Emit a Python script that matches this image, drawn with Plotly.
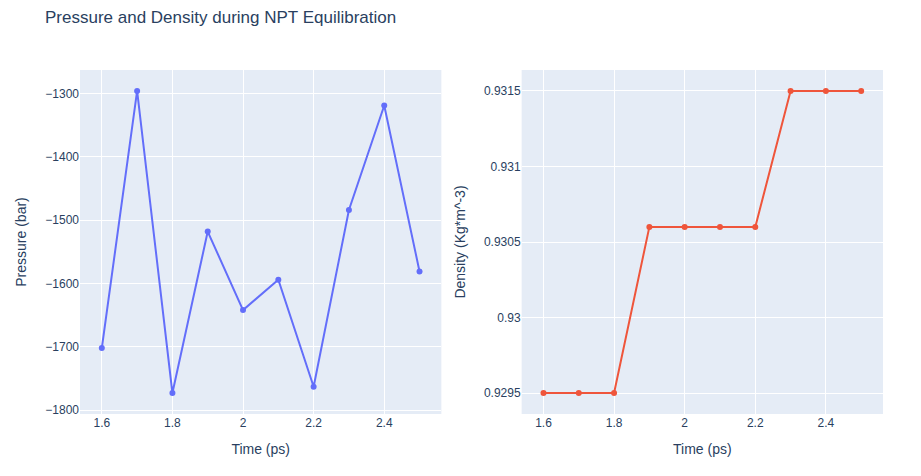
import plotly.graph_objects as go
from plotly.subplots import make_subplots

time_ps = [1.6, 1.7, 1.8, 1.9, 2.0, 2.1, 2.2, 2.3, 2.4, 2.5]
pressure_bar = [-1702, -1296, -1773, -1518, -1642, -1594, -1763, -1484, -1319, -1581]
density = [0.9295, 0.9295, 0.9295, 0.9306, 0.9306, 0.9306, 0.9306, 0.9315, 0.9315, 0.9315]

W, H = 905, 460

fig = make_subplots(rows=1, cols=2, horizontal_spacing=0.1)
fig.add_trace(go.Scatter(x=time_ps, y=pressure_bar, mode="lines+markers", name="Pressure",
                         marker=dict(color="#636efa", size=6), line=dict(color="#636efa")), row=1, col=1)
fig.add_trace(go.Scatter(x=time_ps, y=density, mode="lines+markers", name="Density",
                         marker=dict(color="#EF553B", size=6), line=dict(color="#EF553B")), row=1, col=2)

fig.update_xaxes(title_text="Time (ps)", row=1, col=1)
fig.update_xaxes(title_text="Time (ps)", row=1, col=2)
fig.update_yaxes(title_text="Pressure (bar)", row=1, col=1)
fig.update_yaxes(title_text="Density (Kg*m^-3)", row=1, col=2)

fig.update_layout(
    title=dict(text="Pressure and Density during NPT Equilibration",
               x=37 / W, xanchor="left", y=1 - 9 / H, yanchor="middle"),
    font=dict(family="Arial, Liberation Sans, sans-serif"),
    showlegend=False,
    width=W, height=H,
    margin=dict(l=68, r=30, t=62, b=54),
)
fig.write_html("out.html")
